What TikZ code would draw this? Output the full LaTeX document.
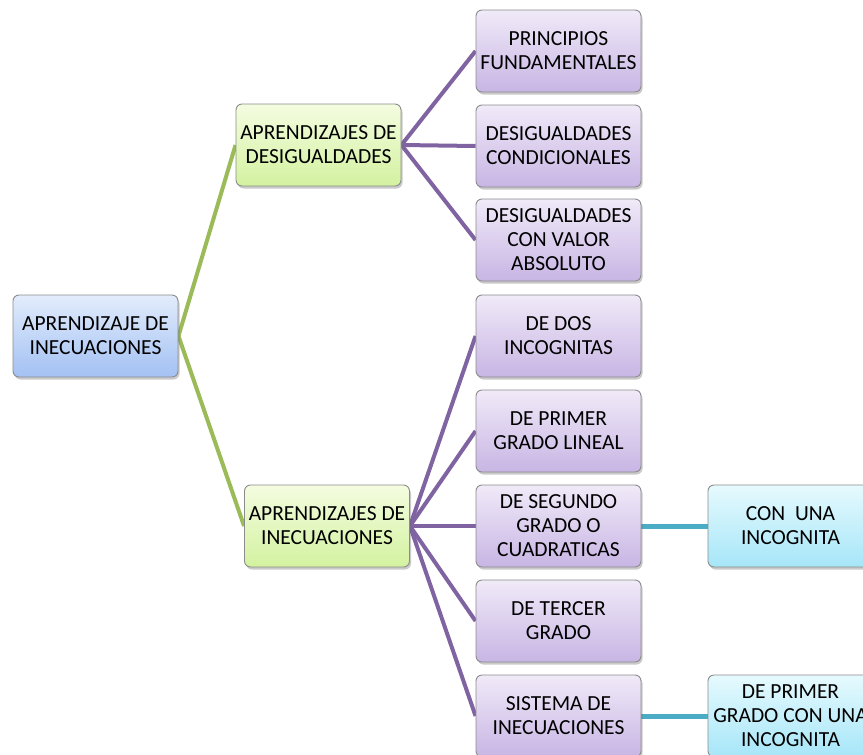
\documentclass[tikz,border=0pt]{standalone}
\usepackage{fontspec}
\setmainfont{Carlito}
\usetikzlibrary{shadows,backgrounds}
\definecolor{bordergray}{HTML}{8C8C8C}
\definecolor{greenline}{HTML}{9BBB59}
\definecolor{purpleline}{HTML}{8064A2}
\definecolor{cyanline}{HTML}{4BACC6}
\definecolor{blueTop}{HTML}{E2ECFC}
\definecolor{blueBot}{HTML}{A3C1F3}
\definecolor{greenTop}{HTML}{F4FCE0}
\definecolor{greenBot}{HTML}{D3F2A0}
\definecolor{purpTop}{HTML}{F0EAF8}
\definecolor{purpBot}{HTML}{C8B5E4}
\definecolor{cyanTop}{HTML}{E6FAFE}
\definecolor{cyanBot}{HTML}{A6E6F8}
\tikzset{
  x=1pt, y=-1pt,
  box/.style={draw=bordergray, line width=0.9pt, rounded corners=6pt,
    minimum width=165pt, minimum height=82pt, align=center,
    font=\fontsize{21.5}{24}\selectfont, inner sep=0pt,
    drop shadow={shadow xshift=1.5pt, shadow yshift=-2.5pt, opacity=0.35, fill=black!60}},
  bluebox/.style={box, top color=blueTop, bottom color=blueBot},
  greenbox/.style={box, top color=greenTop, bottom color=greenBot},
  purpbox/.style={box, top color=purpTop, bottom color=purpBot},
  cyanbox/.style={box, top color=cyanTop, bottom color=cyanBot},
  gline/.style={draw=greenline, line width=4pt},
  pline/.style={draw=purpleline, line width=4pt},
  cline/.style={draw=cyanline, line width=5pt},
}
\begin{document}
\begin{tikzpicture}
\useasboundingbox (0,0) rectangle (863,755);
\clip (0,0) rectangle (863,755);
\node[bluebox] (root) at (95.5,336) {APRENDIZAJE DE\\INECUACIONES};
\node[greenbox] (ad) at (318.5,145) {APRENDIZAJES DE\\DESIGUALDADES};
\node[greenbox] (ai) at (327,526) {APRENDIZAJES DE\\INECUACIONES};
\node[purpbox] (p1) at (558.5,51) {PRINCIPIOS\\FUNDAMENTALES};
\node[purpbox] (p2) at (558.5,146) {DESIGUALDADES\\CONDICIONALES};
\node[purpbox] (p3) at (558.5,240) {DESIGUALDADES\\CON VALOR\\ABSOLUTO};
\node[purpbox] (p4) at (558.5,336) {DE DOS\\INCOGNITAS};
\node[purpbox] (p5) at (558.5,431) {DE PRIMER\\GRADO LINEAL};
\node[purpbox] (p6) at (558.5,526) {DE SEGUNDO\\GRADO O\\CUADRATICAS};
\node[purpbox] (p7) at (558.5,621) {DE TERCER\\GRADO};
\node[purpbox] (p8) at (558.5,716) {SISTEMA DE\\INECUACIONES};
\node[cyanbox] (c1) at (790.5,526) {CON\ \ UNA\\INCOGNITA};
\node[cyanbox] (c2) at (790.5,716) {DE PRIMER\\GRADO CON UNA\\INCOGNITA};
\begin{scope}[on background layer]
\draw[gline] (root.east) -- (ad.west);
\draw[gline] (root.east) -- (ai.west);
\foreach \p in {p1,p2,p3} \draw[pline] (ad.east) -- (\p.west);
\foreach \p in {p4,p5,p6,p7,p8} \draw[pline] (ai.east) -- (\p.west);
\draw[cline] (p6.east) -- (c1.west);
\draw[cline] (p8.east) -- (c2.west);
\end{scope}
\end{tikzpicture}
\end{document}
